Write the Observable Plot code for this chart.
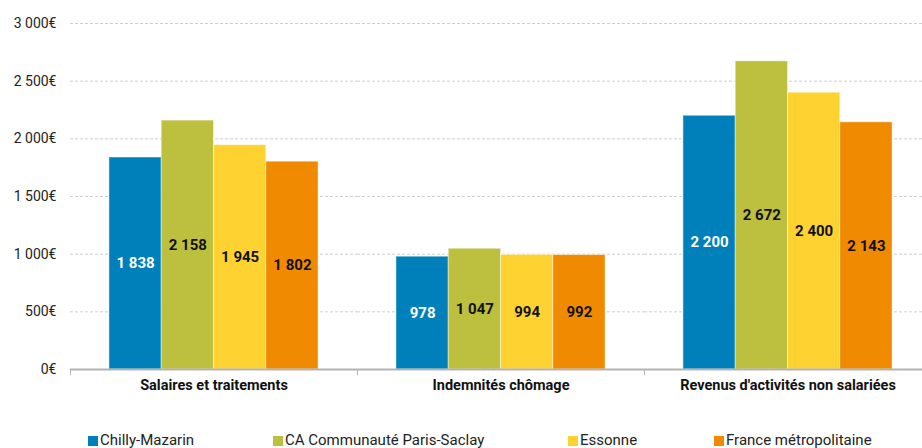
<!DOCTYPE html>
<html>
<head>
<meta charset="utf-8">
<script src="https://cdn.jsdelivr.net/npm/d3@7"></script>
<script src="https://cdn.jsdelivr.net/npm/@observablehq/plot@0.6"></script>
<style>
  body { margin: 0; background: #fff; font-family: Roboto, sans-serif; }
  #wrap { position: relative; width: 922px; height: 448px; overflow: hidden; }
  #legend { position: absolute; top: 431px; left: 0; width: 922px; height: 20px; font-size: 15px; color: #222; }
  .item { position: absolute; top: 0; white-space: nowrap; }
  .sw { display: inline-block; width: 10px; height: 10px; margin-right: 2px; vertical-align: -1px; }
</style>
</head>
<body>
<div id="wrap"></div>
<script>
const categories = ["Salaires et traitements", "Indemnités chômage", "Revenus d'activités non salariées"];
const series = ["Chilly-Mazarin", "CA Communauté Paris-Saclay", "Essonne", "France métropolitaine"];
const colors = ["#0080BA", "#BDBF3F", "#FED331", "#F08A00"];
const chillyValues = [1838, 978, 2200];
const caValues = [2158, 1047, 2672];
const essonneValues = [1945, 994, 2400];
const franceValues = [1802, 992, 2143];
const yTicks = [0, 500, 1000, 1500, 2000, 2500, 3000];
const legendLeft = [88, 273, 568, 714];

const valuesBySeries = [chillyValues, caValues, essonneValues, franceValues];
const data = [];
categories.forEach((c, ci) => {
  series.forEach((s, si) => {
    data.push({category: c, series: s, value: valuesBySeries[si][ci]});
  });
});

const fmtNum = d => d3.format(",")(d).replace(/,/g, " ");
const fmtEur = d => fmtNum(d) + "€";

const chart = Plot.plot({
  width: 922,
  height: 426,
  marginLeft: 70,
  marginRight: -9,
  marginTop: 23,
  marginBottom: 57,
  style: {fontFamily: "Roboto, sans-serif", background: "#fff"},
  fx: {domain: categories, padding: 0, label: null},
  x: {domain: series, paddingInner: 0, paddingOuter: 0.745, round: false, axis: null},
  y: {domain: [0, 3000], label: null},
  color: {domain: series, range: colors},
  marks: [
    Plot.ruleY(yTicks.filter(d => d > 0), {y: d => d, stroke: "#cfcfcf", strokeDasharray: "3,2", strokeWidth: 1}),
    Plot.axisY({ticks: yTicks, tickFormat: fmtEur, tickSize: 0, tickPadding: 14, fontSize: 14, fill: "#222", label: null}),
    Plot.barY(data, {fx: "category", x: "series", y: "value", fill: "series", stroke: "#fff", strokeOpacity: 0.45, strokeWidth: 1}),
    Plot.text(data, {fx: "category", x: "series", y: d => d.value / 2, text: d => fmtNum(d.value),
      fill: d => d.series === series[0] ? "#fff" : "#111", fontSize: 15, fontWeight: "bold"}),
    Plot.ruleY([0], {stroke: "#b3b3b3", strokeWidth: 2}),
    Plot.axisFx({anchor: "bottom", tickSize: 0, tickPadding: 10, fontSize: 14.5, fontWeight: "bold", fill: "#111", label: null})
  ]
});

document.getElementById("wrap").appendChild(chart);

// boundary tick marks along the baseline, from the library's scales
const fx = chart.scale("fx");
const ys = chart.scale("y");
const svg = d3.select(chart.tagName.toLowerCase() === "svg" ? chart : chart.querySelector("svg"));
const y0 = ys.apply(0);
const g = svg.append("g").attr("stroke", "#b3b3b3").attr("stroke-width", 1);
categories.forEach(c => {
  const x = fx.apply(c);
  g.append("line").attr("x1", x + 0.5).attr("x2", x + 0.5).attr("y1", y0).attr("y2", y0 + 6);
});
const last = fx.apply(categories[categories.length - 1]) + fx.bandwidth;
g.append("line").attr("x1", last - 0.5).attr("x2", last - 0.5).attr("y1", y0).attr("y2", y0 + 6);

// legend
const legend = document.createElement("div");
legend.id = "legend";
series.forEach((s, i) => {
  const it = document.createElement("span");
  it.className = "item";
  it.style.left = legendLeft[i] + "px";
  const sw = document.createElement("span");
  sw.className = "sw";
  sw.style.background = colors[i];
  it.appendChild(sw);
  it.appendChild(document.createTextNode(s));
  legend.appendChild(it);
});
document.getElementById("wrap").appendChild(legend);
</script>
</body>
</html>
